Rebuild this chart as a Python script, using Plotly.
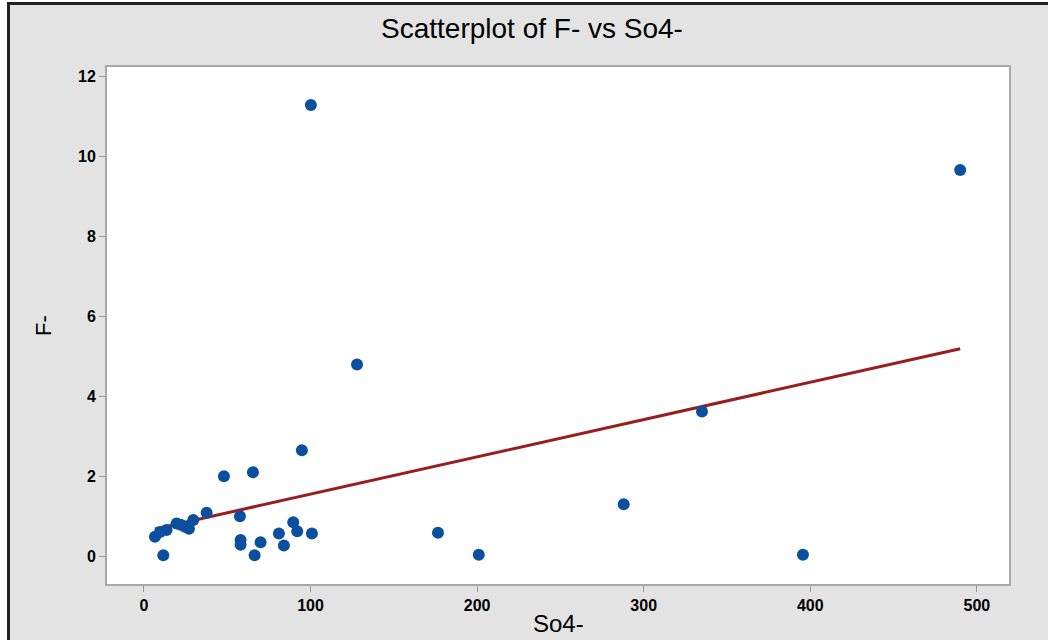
import numpy as np
import plotly.graph_objects as go

so4 = [6.6, 9.6, 13.6, 19.6, 22.0, 24.6, 27.0, 29.6, 37.6, 11.6,
       48.0, 57.6, 58.0, 58.0, 65.4, 66.4, 70.0, 81.0, 84.0, 89.6,
       92.0, 100.8, 94.8, 100.2, 127.9, 176.5, 201.0, 288.0, 335.0, 395.6, 490.0]
f_minus = [0.50, 0.62, 0.67, 0.83, 0.80, 0.75, 0.70, 0.92, 1.10, 0.04,
           2.01, 1.01, 0.42, 0.30, 2.11, 0.04, 0.36, 0.58, 0.28, 0.86,
           0.64, 0.58, 2.66, 11.28, 4.80, 0.60, 0.05, 1.31, 3.63, 0.05, 9.66]
x_ticks = [0, 100, 200, 300, 400, 500]
y_ticks = [0, 2, 4, 6, 8, 10, 12]

W, H = 1048, 640
ML, MR, MT, MB = 107, 39, 67, 56
PW, PH = W - ML - MR, H - MT - MB

def px(x):
    return (x - ML) / PW

def py(y):
    return 1 - (y - MT) / PH

slope, intercept = np.polyfit(so4, f_minus, 1)
xl = np.array([min(so4), max(so4)])
yl = intercept + slope * xl

FONT = "Liberation Sans Narrow, Arial Narrow, Liberation Sans, Arial, sans-serif"

fig = go.Figure()
fig.add_trace(go.Scatter(x=xl, y=yl, mode="lines",
                         line=dict(color="#9a1c1c", width=3), showlegend=False, hoverinfo="skip"))
fig.add_trace(go.Scatter(x=so4, y=f_minus, mode="markers",
                         marker=dict(color="#0b4f9e", size=12, symbol="circle"),
                         showlegend=False))

fig.update_layout(
    width=W, height=H,
    margin=dict(l=ML, r=MR, t=MT, b=MB, pad=0, autoexpand=False),
    paper_bgcolor="#e3e3e3",
    plot_bgcolor="white",
    title=dict(text="Scatterplot of F- vs So4-", x=532 / W, xanchor="center",
               y=1 - 28 / H, yanchor="middle",
               font=dict(family=FONT, size=28, color="black")),
    font=dict(family=FONT, color="black"),
)
fig.update_xaxes(range=[-22.2, 519.3], tickvals=x_ticks, ticks="outside", ticklen=6,
                 tickcolor="#9a9a9a", tickwidth=1, automargin=False,
                 tickfont=dict(family=FONT, size=16, color="black", weight="bold"),
                 showgrid=False, zeroline=False, showline=True, linecolor="#a8a8a8",
                 linewidth=2, mirror=True)
fig.update_yaxes(range=[-0.68, 12.23], tickvals=y_ticks, ticks="outside", ticklen=6,
                 tickcolor="#9a9a9a", tickwidth=1, automargin=False,
                 tickfont=dict(family=FONT, size=16, color="black", weight="bold"),
                 showgrid=False, zeroline=False, showline=True, linecolor="#a8a8a8",
                 linewidth=2, mirror=True,
                 title=dict(text="F-", font=dict(family=FONT, size=22, color="black"), standoff=20))

# x-axis title, kept just inside the bottom edge
fig.add_annotation(text="So4-", xref="paper", yref="paper", x=0.5, y=py(639),
                   xanchor="center", yanchor="bottom", showarrow=False,
                   font=dict(family=FONT, size=24, color="black"))

# white strip outside the frame and the dark frame lines
fig.add_shape(type="rect", xref="paper", yref="paper", x0=px(0), x1=px(7), y0=py(H), y1=py(0),
              fillcolor="white", line_width=0, layer="below")
fig.add_shape(type="rect", xref="paper", yref="paper", x0=px(0), x1=px(W), y0=py(2), y1=py(0),
              fillcolor="white", line_width=0, layer="below")
fig.add_shape(type="line", xref="paper", yref="paper", x0=px(8.5), x1=px(8.5), y0=py(H), y1=py(3),
              line=dict(color="#222222", width=3))
fig.add_shape(type="line", xref="paper", yref="paper", x0=px(7), x1=px(W), y0=py(3.5), y1=py(3.5),
              line=dict(color="#222222", width=3))

fig.write_html("out.html", config={"displayModeBar": False},
               post_script="document.body.style.margin='0';document.body.style.overflow='hidden';")
